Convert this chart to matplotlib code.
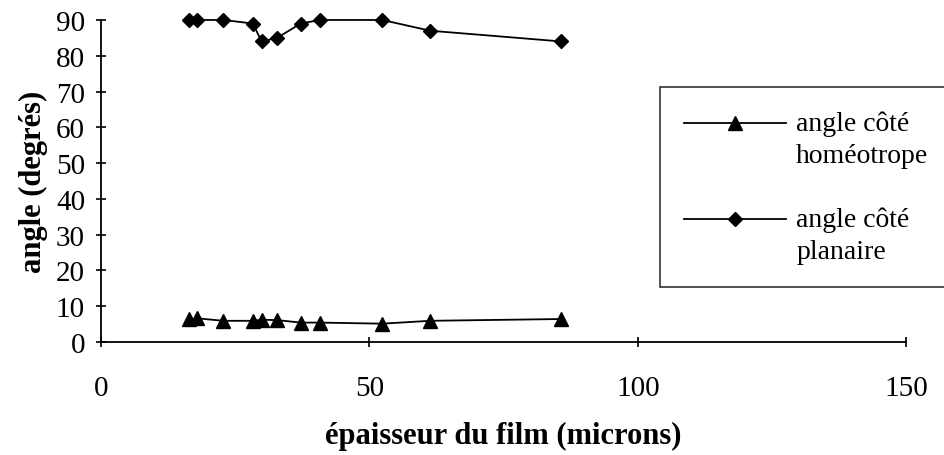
import matplotlib
matplotlib.use("Agg")
import matplotlib.pyplot as plt
from matplotlib.legend_handler import HandlerLine2D

# film thickness (microns)
epaisseur = [16.4, 17.9, 22.8, 28.3, 29.9, 32.8, 37.2, 40.8, 52.4, 61.3, 85.7]
# angle on the homeotropic side (degrees)
angle_homeotrope = [6.3, 6.6, 5.9, 5.9, 6.2, 6.1, 5.4, 5.4, 5.1, 5.9, 6.4]
# angle on the planar side (degrees)
angle_planaire = [90, 90, 90, 89, 84, 85, 89, 90, 90, 87, 84]

x_ticks = [0, 50, 100, 150]
y_ticks = [0, 10, 20, 30, 40, 50, 60, 70, 80, 90]

plt.rcParams['font.family'] = ['Liberation Serif', 'DejaVu Serif']


class TopLineHandler(HandlerLine2D):
    """Legend handle aligned with the first line of a two-line label."""

    def __init__(self, shift, **kw):
        super().__init__(**kw)
        self.shift = shift

    def create_artists(self, legend, orig_handle, xdescent, ydescent,
                       width, height, fontsize, trans):
        artists = super().create_artists(legend, orig_handle, xdescent, ydescent,
                                         width, height, fontsize, trans)
        for a in artists:
            a.set_ydata([y + self.shift for y in a.get_ydata()])
        return artists


fig = plt.figure(figsize=(9.44, 4.56), dpi=100)
ax = fig.add_axes([0.107, 0.248, 0.853, 0.706])

l1, = ax.plot(epaisseur, angle_homeotrope, color='black', lw=1.3, marker='^',
              ms=9.5, label='angle côté\nhoméotrope', clip_on=False)
l2, = ax.plot(epaisseur, angle_planaire, color='black', lw=1.3, marker='D',
              ms=7, label='angle côté\nplanaire', clip_on=False)

ax.set_xlim(0, 150)
ax.set_ylim(0, 90)
ax.set_xticks(x_ticks)
ax.set_yticks(y_ticks)
ax.spines['top'].set_visible(False)
ax.spines['right'].set_visible(False)
for s in ('left', 'bottom'):
    ax.spines[s].set_linewidth(1.3)
ax.tick_params(direction='inout', length=7, width=1.2, labelsize=21)
ax.tick_params(axis='x', pad=20)
ax.tick_params(axis='y', pad=8)

ax.set_xlabel('épaisseur du film (microns)', fontsize=22, fontweight='bold', labelpad=15)
ax.set_ylabel('angle (degrés)', fontsize=22, fontweight='bold', labelpad=6)

leg_fs = 20
hmap = {l1: TopLineHandler(shift=0.58 * leg_fs), l2: TopLineHandler(shift=0.58 * leg_fs)}
leg = ax.legend(loc='upper left', bbox_to_anchor=(660 / 944, 1 - 88 / 456),
                bbox_transform=fig.transFigure, handler_map=hmap,
                frameon=True, fancybox=False, edgecolor='black', fontsize=leg_fs,
                handlelength=3.7, handletextpad=0.35, labelspacing=1.4,
                borderpad=0.85, borderaxespad=0.0)
for t in leg.get_texts():
    t.set_linespacing(1.35)
leg.get_frame().set_linewidth(1.2)

fig.savefig('out.png', dpi=100)
